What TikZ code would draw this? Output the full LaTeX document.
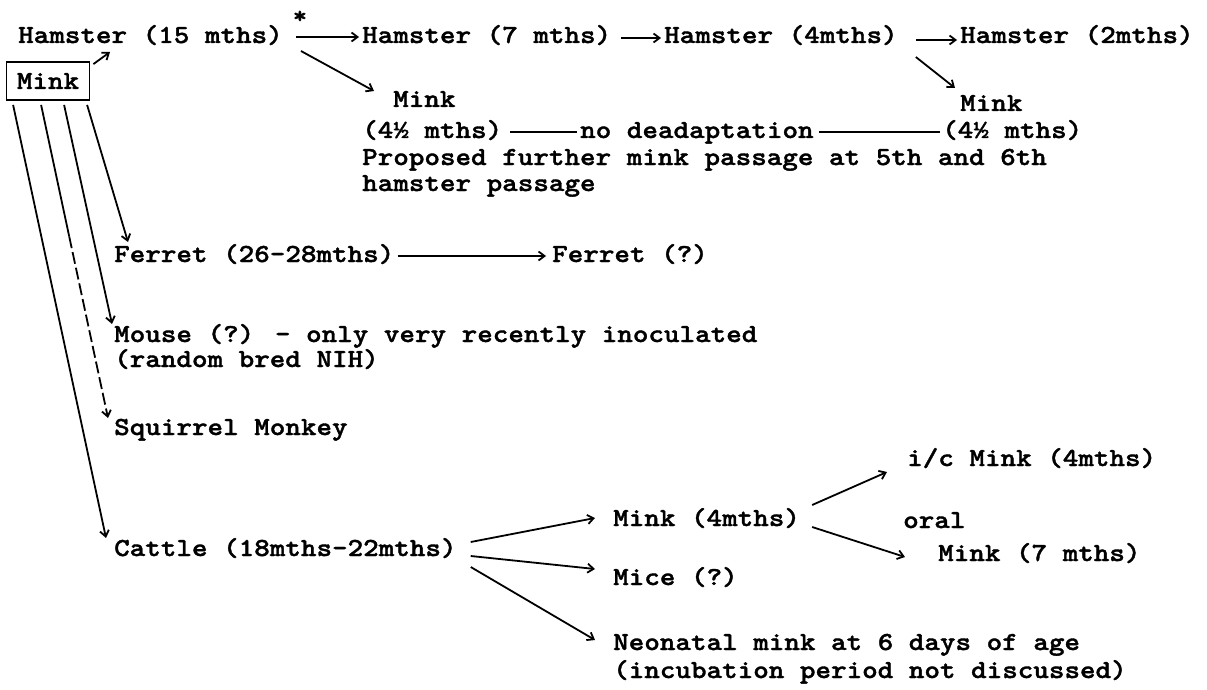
\documentclass[tikz,border=0pt]{standalone}
\usepackage{fontspec}
\newfontfamily\tw{lmmonolt10-bold.otf}[FakeStretch=1.14,FakeBold=1.4]
\usetikzlibrary{arrows.meta,calc}
\begin{document}
\begin{tikzpicture}[x=1pt,y=-1pt,
  txt/.style={anchor=base west,inner sep=0pt,font=\tw\fontsize{26}{28}\selectfont},
  link/.style={line width=1.8pt},
  arr/.style={link,-{Straight Barb[length=6pt,width=9pt]}},
  dashlink/.style={arr,dash pattern=on 12pt off 4pt}]
\fill[white] (0,0) rectangle (1207,690);
\useasboundingbox (0,0) rectangle (1207,690);

% top row: hamster passages
\node[txt] (h15) at (18,43) {Hamster (15 mths)};
\node[txt] (h7) at (362,43) {Hamster (7 mths)};
\node[txt] (h4) at (664,43) {Hamster (4mths)};
\node[txt] (h2) at (960,43) {Hamster (2mths)};
\node[inner sep=0pt,font=\tw\fontsize{24}{26}\selectfont] (star) at ($(h15.base east)+(17,-26)$) {*};

% source box
\node[draw,link,inner sep=0pt,minimum width=83pt,minimum height=38pt,
      font=\tw\fontsize{26}{28}\selectfont] (mbox) at (48,81) {Mink};

% mink passages from hamster
\node[txt] (mk1) at (393,107) {Mink};
\node[txt] (mk1m) at (362,138) {(4½ mths)};
\node[txt] (nodead) at (580,138) {no deadaptation};
\node[txt] (mk2) at (960,111) {Mink};
\node[txt] (mk2m) at (942,138) {(4½ mths)};
\node[txt] (prop) at (362,165) {Proposed further mink passage at 5th and 6th};
\node[txt] (hpass) at (362,191) {hamster passage};

% other species
\node[txt] (fer1) at (114,262) {Ferret (26-28mths)};
\node[txt] (fer2) at (552,262) {Ferret (?)};
\node[txt] (mouse) at (114,342) {Mouse (?) - only very recently inoculated};
\node[txt] (nih) at (114,367) {(random bred NIH)};
\node[txt] (squir) at (114,435) {Squirrel Monkey};
\node[txt] (cattle) at (114,556) {Cattle (18mths-22mths)};

% cattle passages
\node[txt] (ic) at (907,466) {i/c Mink (4mths)};
\node[txt] (mk4) at (613,526) {Mink (4mths)};
\node[txt] (oral) at (903,528) {oral};
\node[txt] (mk7) at (938,561) {Mink (7 mths)};
\node[txt] (mice) at (613,585) {Mice (?)};
\node[txt] (neo) at (613,650) {Neonatal mink at 6 days of age};
\node[txt] (incub) at (613,678) {(incubation period not discussed)};

% hamster chain
\draw[arr] ($(h15.base east)+(13,-6)$) -- ($(h7.base west)+(-3,-6)$);
\draw[arr] ($(h7.base east)+(10,-5)$) -- ($(h4.base west)+(-3,-5)$);
\draw[arr] ($(h4.base east)+(18,-3)$) -- ($(h2.base west)+(-3,-3)$);
\draw[arr] ($(h15.base east)+(18,8)$) -- ($(mk1.base west)+(-19,-16)$);
\draw[arr] ($(h4.base east)+(18,14)$) -- ($(mk2.base west)+(-5,-23)$);
\draw[arr] ($(mbox.north east)+(3,3)$) -- ($(h15.base west)+(92,9)$);

% no deadaptation line
\draw[link] ($(mk1m.base east)+(8,-6)$) -- ($(nodead.base west)+(-3,-6)$);
\draw[link] ($(nodead.base east)+(5,-6)$) -- ($(mk2m.base west)+(-2,-6)$);

% lines out of the mink box
\draw[arr] ($(mbox.south west)+(7.5,4)$) -- ($(cattle.base west)+(-8,-18)$);
\coordinate (sqa) at ($(mbox.south west)+(35.5,4)$);
\coordinate (sqb) at ($(squir.base west)+(-6,-17)$);
\coordinate (sqm) at ($(sqa)!0.42!(sqb)$);
\draw[link] (sqa) -- (sqm);
\draw[dashlink] (sqm) -- (sqb);
\draw[arr] ($(mbox.south west)+(58.5,4)$) -- ($(mouse.base west)+(-2,-18)$);
\draw[arr] ($(mbox.south west)+(81.5,4)$) -- ($(fer1.base west)+(14,-20)$);

% ferret
\draw[arr] ($(fer1.base east)+(3,-6)$) -- ($(fer2.base west)+(-6,-6)$);

% cattle branches
\draw[arr] ($(cattle.base east)+(14,-14)$) -- ($(mk4.base west)+(-18,-8)$);
\draw[arr] ($(cattle.base east)+(14,0)$) -- ($(mice.base west)+(-18,-16)$);
\draw[arr] ($(cattle.base east)+(14,11)$) -- ($(neo.base west)+(-18,-10)$);
\draw[arr] ($(mk4.base east)+(12,-21)$) -- ($(ic.base west)+(-20,6)$);
\draw[arr] ($(mk4.base east)+(12,1)$) -- ($(mk7.base west)+(-33,-4)$);
\end{tikzpicture}
\end{document}
